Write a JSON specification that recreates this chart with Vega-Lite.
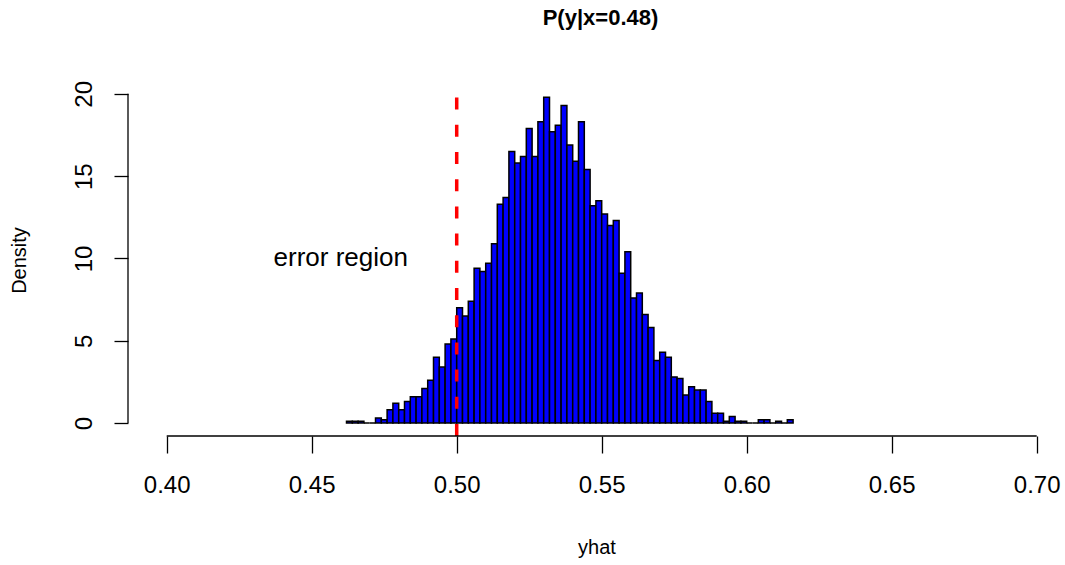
{
  "$schema": "https://vega.github.io/schema/vega-lite/v6.json",
  "width": 937,
  "height": 352,
  "autosize": {"type": "none"},
  "padding": {"left": 128, "top": 84, "right": 0, "bottom": 129},
  "background": "white",
  "config": {
    "view": {"stroke": null},
    "font": "Liberation Sans",
    "axis": {"labelColor": "black", "titleColor": "black", "tickColor": "black", "grid": false, "domain": false, "labelFont": "Liberation Sans", "titleFont": "Liberation Sans"}
  },
  "title": {
    "text": "P(y|x=0.48)",
    "fontSize": 22,
    "fontWeight": "bold",
    "font": "Liberation Sans",
    "color": "black",
    "anchor": "middle",
    "dx": 4,
    "offset": 51
  },
  "datasets": {
    "hist": [
      {"lo": 0.462, "hi": 0.464, "density": 0.1},
      {"lo": 0.464, "hi": 0.466, "density": 0.1},
      {"lo": 0.466, "hi": 0.468, "density": 0.1},
      {"lo": 0.468, "hi": 0.470, "density": 0},
      {"lo": 0.470, "hi": 0.472, "density": 0},
      {"lo": 0.472, "hi": 0.474, "density": 0.3},
      {"lo": 0.474, "hi": 0.476, "density": 0.2},
      {"lo": 0.476, "hi": 0.478, "density": 0.8},
      {"lo": 0.478, "hi": 0.480, "density": 1.2},
      {"lo": 0.480, "hi": 0.482, "density": 0.8},
      {"lo": 0.482, "hi": 0.484, "density": 1.3},
      {"lo": 0.484, "hi": 0.486, "density": 1.6},
      {"lo": 0.486, "hi": 0.488, "density": 1.6},
      {"lo": 0.488, "hi": 0.490, "density": 2.1},
      {"lo": 0.490, "hi": 0.492, "density": 2.6},
      {"lo": 0.492, "hi": 0.494, "density": 4.0},
      {"lo": 0.494, "hi": 0.496, "density": 3.4},
      {"lo": 0.496, "hi": 0.498, "density": 4.8},
      {"lo": 0.498, "hi": 0.500, "density": 5.1},
      {"lo": 0.500, "hi": 0.502, "density": 7.0},
      {"lo": 0.502, "hi": 0.504, "density": 6.5},
      {"lo": 0.504, "hi": 0.506, "density": 7.4},
      {"lo": 0.506, "hi": 0.508, "density": 9.4},
      {"lo": 0.508, "hi": 0.510, "density": 9.2},
      {"lo": 0.510, "hi": 0.512, "density": 9.7},
      {"lo": 0.512, "hi": 0.514, "density": 10.9},
      {"lo": 0.514, "hi": 0.516, "density": 13.3},
      {"lo": 0.516, "hi": 0.518, "density": 13.7},
      {"lo": 0.518, "hi": 0.520, "density": 16.5},
      {"lo": 0.520, "hi": 0.522, "density": 15.8},
      {"lo": 0.522, "hi": 0.524, "density": 16.2},
      {"lo": 0.524, "hi": 0.526, "density": 17.9},
      {"lo": 0.526, "hi": 0.528, "density": 16.2},
      {"lo": 0.528, "hi": 0.530, "density": 18.3},
      {"lo": 0.530, "hi": 0.532, "density": 19.8},
      {"lo": 0.532, "hi": 0.534, "density": 17.7},
      {"lo": 0.534, "hi": 0.536, "density": 18.1},
      {"lo": 0.536, "hi": 0.538, "density": 19.3},
      {"lo": 0.538, "hi": 0.540, "density": 16.9},
      {"lo": 0.540, "hi": 0.542, "density": 15.9},
      {"lo": 0.542, "hi": 0.544, "density": 18.3},
      {"lo": 0.544, "hi": 0.546, "density": 15.4},
      {"lo": 0.546, "hi": 0.548, "density": 13.2},
      {"lo": 0.548, "hi": 0.550, "density": 13.5},
      {"lo": 0.550, "hi": 0.552, "density": 12.7},
      {"lo": 0.552, "hi": 0.554, "density": 12.0},
      {"lo": 0.554, "hi": 0.556, "density": 12.3},
      {"lo": 0.556, "hi": 0.558, "density": 9.1},
      {"lo": 0.558, "hi": 0.560, "density": 10.4},
      {"lo": 0.560, "hi": 0.562, "density": 7.6},
      {"lo": 0.562, "hi": 0.564, "density": 7.9},
      {"lo": 0.564, "hi": 0.566, "density": 6.6},
      {"lo": 0.566, "hi": 0.568, "density": 5.8},
      {"lo": 0.568, "hi": 0.570, "density": 3.8},
      {"lo": 0.570, "hi": 0.572, "density": 4.3},
      {"lo": 0.572, "hi": 0.574, "density": 4.0},
      {"lo": 0.574, "hi": 0.576, "density": 2.8},
      {"lo": 0.576, "hi": 0.578, "density": 2.7},
      {"lo": 0.578, "hi": 0.580, "density": 1.7},
      {"lo": 0.580, "hi": 0.582, "density": 2.2},
      {"lo": 0.582, "hi": 0.584, "density": 2.0},
      {"lo": 0.584, "hi": 0.586, "density": 2.0},
      {"lo": 0.586, "hi": 0.588, "density": 1.3},
      {"lo": 0.588, "hi": 0.590, "density": 0.6},
      {"lo": 0.590, "hi": 0.592, "density": 0.6},
      {"lo": 0.592, "hi": 0.594, "density": 0.1},
      {"lo": 0.594, "hi": 0.596, "density": 0.4},
      {"lo": 0.596, "hi": 0.598, "density": 0.1},
      {"lo": 0.598, "hi": 0.600, "density": 0.1},
      {"lo": 0.600, "hi": 0.602, "density": 0},
      {"lo": 0.602, "hi": 0.604, "density": 0},
      {"lo": 0.604, "hi": 0.606, "density": 0.2},
      {"lo": 0.606, "hi": 0.608, "density": 0.2},
      {"lo": 0.608, "hi": 0.610, "density": 0},
      {"lo": 0.610, "hi": 0.612, "density": 0.1},
      {"lo": 0.612, "hi": 0.614, "density": 0},
      {"lo": 0.614, "hi": 0.616, "density": 0.2}
    ],
    "note": [
      {"label": "error region", "x": 0.46, "y": 10}
    ],
    "cutoff": [
      {"x": 0.5}
    ]
  },
  "layer": [
    {
      "data": {"name": "hist"},
      "mark": {"type": "rect", "fill": "#0000ff", "stroke": "black", "strokeWidth": 1.5},
      "encoding": {
        "x": {
          "field": "lo", "type": "quantitative",
          "scale": {"domain": [0.38665, 0.70976], "nice": false, "zero": false},
          "axis": {
            "title": "yhat", "titleFontSize": 20, "titleFontWeight": "normal", "titlePadding": 40,
            "values": [0.4, 0.45, 0.5, 0.55, 0.6, 0.65, 0.7], "format": ".2f",
            "labelFontSize": 24, "labelPadding": 20, "tickSize": 17, "tickWidth": 1.3,
            "labelFlush": false, "labelOverlap": false
          }
        },
        "x2": {"field": "hi"},
        "y": {
          "field": "density", "type": "quantitative",
          "scale": {"domain": [-0.79, 20.6], "nice": false, "zero": false},
          "axis": {
            "title": "Density", "titleFontSize": 20, "titleFontWeight": "normal", "titlePadding": 43,
            "values": [0, 5, 10, 15, 20],
            "labelFontSize": 24, "labelAngle": -90, "labelPadding": 18, "tickSize": 14, "tickWidth": 1.3,
            "labelFlush": false, "labelOverlap": false
          }
        },
        "y2": {"datum": 0}
      }
    },
    {
      "data": {"name": "cutoff"},
      "mark": {"type": "rule", "color": "#ff0000", "strokeWidth": 3.5, "strokeDash": [12, 15.2], "strokeCap": "butt"},
      "encoding": {
        "x": {"field": "x", "type": "quantitative", "scale": {"domain": [0.38665, 0.70976], "nice": false, "zero": false}},
        "y": {"datum": -0.79, "type": "quantitative", "scale": {"domain": [-0.79, 20.6], "nice": false, "zero": false}},
        "y2": {"datum": 20.6}
      }
    },
    {
      "data": {"name": "note"},
      "mark": {"type": "text", "fontSize": 26, "font": "Liberation Sans", "color": "black", "align": "center", "baseline": "middle"},
      "encoding": {
        "x": {"field": "x", "type": "quantitative", "scale": {"domain": [0.38665, 0.70976], "nice": false, "zero": false}},
        "y": {"field": "y", "type": "quantitative", "scale": {"domain": [-0.79, 20.6], "nice": false, "zero": false}},
        "text": {"field": "label"}
      }
    },
    {
      "data": {"name": "cutoff"},
      "mark": {"type": "rule", "color": "black", "strokeWidth": 1.3},
      "encoding": {
        "x": {"datum": 0.4, "type": "quantitative", "scale": {"domain": [0.38665, 0.70976], "nice": false, "zero": false}},
        "x2": {"datum": 0.7},
        "y": {"datum": -0.79, "type": "quantitative", "scale": {"domain": [-0.79, 20.6], "nice": false, "zero": false}}
      }
    },
    {
      "data": {"name": "cutoff"},
      "mark": {"type": "rule", "color": "black", "strokeWidth": 1.3},
      "encoding": {
        "x": {"datum": 0.38665, "type": "quantitative", "scale": {"domain": [0.38665, 0.70976], "nice": false, "zero": false}},
        "y": {"datum": 0, "type": "quantitative", "scale": {"domain": [-0.79, 20.6], "nice": false, "zero": false}},
        "y2": {"datum": 20}
      }
    }
  ]
}
